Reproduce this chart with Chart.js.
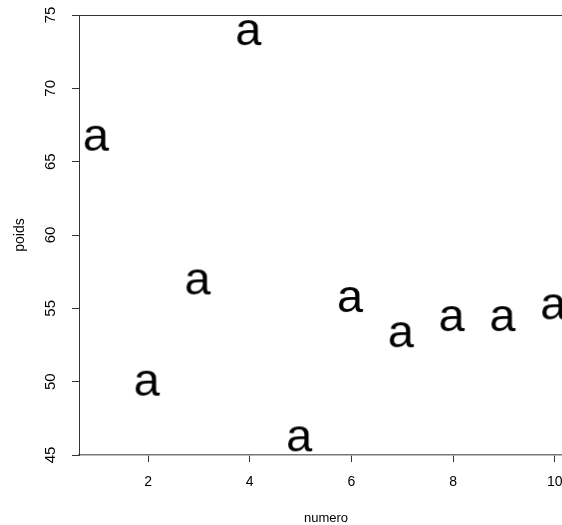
<!DOCTYPE html>
<html>
<head>
<meta charset="utf-8">
<script src="https://cdn.jsdelivr.net/npm/chart.js@4/dist/chart.umd.min.js"></script>
<style>
  html, body { margin: 0; padding: 0; background: #fff; overflow: hidden; }
  #wrap { width: 562px; height: 525px; overflow: hidden; }
</style>
</head>
<body>
<div id="wrap"><canvas id="c" width="600" height="525"></canvas></div>
<script>
// values
const numero = [1, 2, 3, 4, 5, 6, 7, 8, 9, 10];
const poids = [66.6, 49.9, 56.8, 73.8, 46.1, 55.6, 53.2, 54.3, 54.3, 55.1];
const xTicks = [2, 4, 6, 8, 10];
const yTicks = [45, 50, 55, 60, 65, 70, 75];

const FONT = '"Liberation Sans", Arial, sans-serif';

// the point symbol is the letter "a" (like pch = "a" in R)
function letterSymbol(ch, size) {
    const probe = document.createElement('canvas').getContext('2d');
    probe.font = size + 'px ' + FONT;
    const m = probe.measureText(ch);
    const w = Math.ceil(m.actualBoundingBoxLeft + m.actualBoundingBoxRight) + 2;
    const h = Math.ceil(m.actualBoundingBoxAscent + m.actualBoundingBoxDescent) + 2;
    const cv = document.createElement('canvas');
    cv.width = w;
    cv.height = h;
    const ctx = cv.getContext('2d');
    ctx.font = size + 'px ' + FONT;
    ctx.fillStyle = '#000';
    ctx.fillText(ch, 1 + m.actualBoundingBoxLeft, 1 + m.actualBoundingBoxAscent);
    return cv;
}

// top side of the box (the right side falls outside the window)
const boxPlugin = {
    id: 'box',
    afterDraw(chart) {
        const a = chart.chartArea;
        const ctx = chart.ctx;
        ctx.save();
        ctx.strokeStyle = '#333';
        ctx.lineWidth = 1;
        ctx.beginPath();
        ctx.moveTo(a.left, a.top + 0.5);
        ctx.lineTo(a.right, a.top + 0.5);
        ctx.stroke();
        ctx.restore();
    }
};

const data = numero.map((n, i) => ({ x: n, y: poids[i] }));

new Chart(document.getElementById('c'), {
    type: 'scatter',
    data: {
        datasets: [{
            data: data,
            pointStyle: letterSymbol('a', 47),
            pointRadius: 10,
            pointHoverRadius: 10
        }]
    },
    options: {
        responsive: false,
        animation: false,
        devicePixelRatio: 1,
        layout: { padding: { top: 15, right: 27, left: 0, bottom: 0 } },
        plugins: { legend: { display: false }, tooltip: { enabled: false } },
        scales: {
            x: {
                type: 'linear',
                min: 0.64,
                max: 10.36,
                afterBuildTicks(scale) { scale.ticks = xTicks.map(v => ({ value: v })); },
                afterFit(scale) { scale.height = 70; },
                grid: { display: true, drawOnChartArea: false, drawTicks: true, tickLength: 7, color: '#333' },
                border: { display: true, color: '#777', width: 1.5 },
                ticks: { color: '#000', font: { family: FONT, size: 14 }, padding: 12, maxRotation: 0, autoSkip: false },
                title: { display: true, text: 'numero', color: '#000', font: { family: FONT, size: 13, lineHeight: 1 }, padding: { top: 0, bottom: 0 } }
            },
            y: {
                type: 'linear',
                min: 45,
                max: 75,
                afterBuildTicks(scale) { scale.ticks = yTicks.map(v => ({ value: v })); },
                afterFit(scale) {
                    scale.width = 79;
                    // no extra room above/below for the rotated labels
                    scale.paddingTop = 0;
                    scale.paddingBottom = 0;
                },
                grid: { display: true, drawOnChartArea: false, drawTicks: true, tickLength: 7, color: '#333' },
                border: { display: true, color: '#333', width: 1 },
                ticks: { color: '#000', font: { family: FONT, size: 15 }, padding: 13, minRotation: 90, maxRotation: 90, crossAlign: 'center', autoSkip: false },
                title: { display: true, text: 'poids', color: '#000', font: { family: FONT, size: 14, lineHeight: 1 }, padding: { top: 13, bottom: 0 } }
            }
        }
    },
    plugins: [boxPlugin]
});
</script>
</body>
</html>
